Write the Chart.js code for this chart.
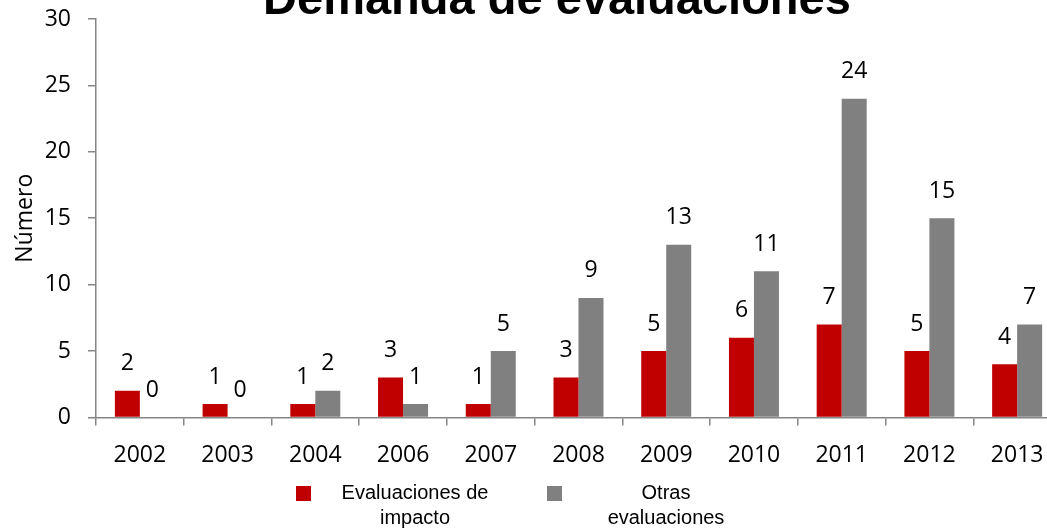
<!DOCTYPE html>
<html>
<head>
<meta charset="utf-8">
<script src="https://cdn.jsdelivr.net/npm/chart.js@4/dist/chart.umd.min.js"></script>
<style>
  html, body { margin: 0; padding: 0; background: #fff; overflow: hidden; width: 1047px; height: 529px; }
  #wrap { position: absolute; left: 0; top: 0; }
  #title { position: absolute; left: 157px; width: 800px; top: -26px; text-align: center; white-space: nowrap;
           font-family: "Liberation Sans", Arial, sans-serif; font-weight: bold; font-size: 47px; line-height: 47px; color: #000; }
  #legend { position: absolute; left: 296px; top: 480px; display: flex; font-family: "Liberation Sans", Arial, sans-serif; font-size: 20px; line-height: 25px; color: #000; }
  .item { display: flex; align-items: flex-start; width: 251px; }
  .box { width: 15px; height: 15px; margin-top: 6px; flex: none; }
  .txt { width: 160px; margin-left: 24px; text-align: center; }
</style>
</head>
<body>
<div id="wrap"><canvas id="chart" width="1070" height="493"></canvas></div>
<div id="title"></div>
<div id="legend"></div>
<script>
// --- data ---
const chartTitle = 'Demanda de evaluaciones';
const years = ['2002', '2003', '2004', '2006', '2007', '2008', '2009', '2010', '2011', '2012', '2013'];
const impacto = [2, 1, 1, 3, 1, 3, 5, 6, 7, 5, 4];
const otras = [0, 0, 2, 1, 5, 9, 13, 11, 24, 15, 7];
const seriesNames = [['Evaluaciones de', 'impacto'], ['Otras', 'evaluaciones']];
const seriesColors = ['#C00000', '#808080'];

const axisGray = '#868686';
const tickFont = { family: '"Open Sans", sans-serif', size: 23 };

// value labels above every bar
const barLabels = {
  id: 'barLabels',
  afterDatasetsDraw(chart) {
    const ctx = chart.ctx;
    ctx.save();
    ctx.font = '23px "Open Sans", sans-serif';
    ctx.fillStyle = '#000';
    ctx.textAlign = 'center';
    ctx.textBaseline = 'middle';
    chart.data.datasets.forEach((ds, i) => {
      chart.getDatasetMeta(i).data.forEach((bar, j) => {
        ctx.fillText(ds.data[j], bar.x, bar.y - 27);
      });
    });
    ctx.restore();
  }
};

new Chart(document.getElementById('chart'), {
  type: 'bar',
  data: {
    labels: years,
    datasets: [
      { label: seriesNames[0].join(' '), data: impacto, backgroundColor: seriesColors[0] },
      { label: seriesNames[1].join(' '), data: otras, backgroundColor: seriesColors[1] }
    ]
  },
  options: {
    responsive: false,
    animation: false,
    devicePixelRatio: 1,
    categoryPercentage: 0.57,
    barPercentage: 1,
    layout: { padding: { left: 10, right: 9, top: 19, bottom: 8 } },
    plugins: {
      legend: { display: false },
      tooltip: { enabled: false },
      title: { display: false }
    },
    scales: {
      x: {
        grid: { display: true, drawOnChartArea: false, drawTicks: true, tickLength: 8, color: axisGray, lineWidth: 1.5 },
        border: { display: true, color: axisGray, width: 1.5 },
        ticks: { color: '#000', font: tickFont, padding: 16, maxRotation: 0 }
      },
      y: {
        min: 0,
        max: 30,
        afterFit: (scale) => {
          scale.width = 86;
          scale.paddingTop = 0;
          scale.paddingBottom = 0;
        },
        ticks: { stepSize: 5, color: '#000', font: tickFont, padding: 17 },
        grid: { display: true, drawOnChartArea: false, drawTicks: true, tickLength: 8, color: axisGray, lineWidth: 1.5 },
        border: { display: true, color: axisGray, width: 1.5 },
        title: { display: true, text: 'Número', color: '#000', font: tickFont, padding: { top: 2, bottom: 5 } }
      }
    }
  },
  plugins: [barLabels]
});

document.getElementById('title').textContent = chartTitle;

// legend below the plot, labels wrapped on two lines
const legend = document.getElementById('legend');
seriesNames.forEach((name, i) => {
  const item = document.createElement('div');
  item.className = 'item';
  item.innerHTML = '<div class="box" style="background:' + seriesColors[i] + '"></div>' +
    '<div class="txt">' + name.join('<br>') + '</div>';
  legend.appendChild(item);
});
</script>
</body>
</html>
